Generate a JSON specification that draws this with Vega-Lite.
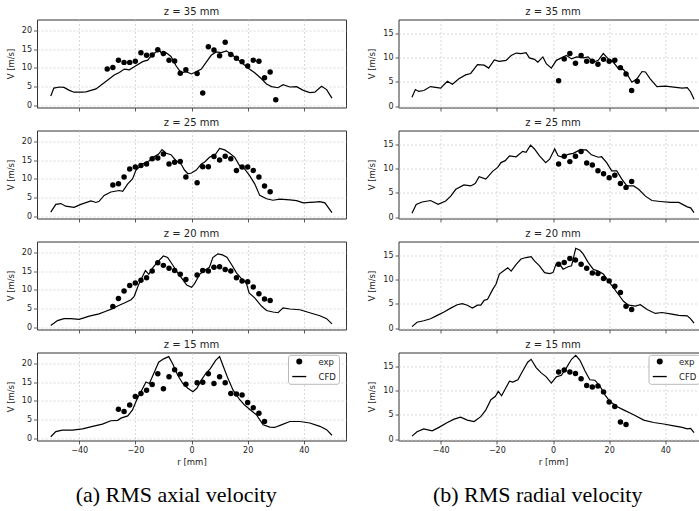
{
  "$schema": "https://vega.github.io/schema/vega-lite/v6.json",
  "background": "white",
  "padding": {"left": 5, "top": 6.5, "right": 0, "bottom": 0},
  "datasets": {
    "a35c": [{"r":-50.1,"V":2.5},{"r":-49,"V":4.6},{"r":-47,"V":4.9},{"r":-45.4,"V":4.8},{"r":-43.5,"V":4.0},{"r":-41.8,"V":3.5},{"r":-39,"V":3.5},{"r":-37.6,"V":3.6},{"r":-34,"V":4.4},{"r":-30.5,"V":6.4},{"r":-27.5,"V":8.1},{"r":-25.7,"V":8.8},{"r":-23.9,"V":9.7},{"r":-22.1,"V":9.5},{"r":-19.8,"V":10.6},{"r":-17.4,"V":11.7},{"r":-15.6,"V":12.1},{"r":-13.8,"V":13.7},{"r":-12.6,"V":14.3},{"r":-11.4,"V":14.8},{"r":-10.2,"V":13.3},{"r":-9,"V":14.1},{"r":-7.3,"V":13.1},{"r":-5.5,"V":10.6},{"r":-3.7,"V":8.7},{"r":-1.9,"V":9.0},{"r":0,"V":8.4},{"r":1.7,"V":9.0},{"r":3.5,"V":9.7},{"r":5.2,"V":11.5},{"r":7,"V":13.4},{"r":8.8,"V":14.3},{"r":10.6,"V":14.1},{"r":12.4,"V":14.6},{"r":14.2,"V":13.7},{"r":16,"V":12.6},{"r":17.7,"V":11.5},{"r":20.1,"V":10.0},{"r":22.5,"V":8.7},{"r":24.9,"V":7.1},{"r":26.7,"V":5.7},{"r":28.5,"V":5.0},{"r":30.8,"V":4.7},{"r":32.6,"V":5.5},{"r":35,"V":4.9},{"r":37.4,"V":5.0},{"r":39.8,"V":4.0},{"r":42.1,"V":3.4},{"r":43.9,"V":3.5},{"r":46.3,"V":5.1},{"r":48.1,"V":4.2},{"r":50,"V":1.9}],
    "a35e": [{"r":-30,"V":9.7},{"r":-28,"V":10.1},{"r":-26,"V":12.1},{"r":-24,"V":11.5},{"r":-22,"V":11.5},{"r":-20,"V":11.8},{"r":-18,"V":14.1},{"r":-16,"V":13.4},{"r":-14,"V":13.5},{"r":-12,"V":14.9},{"r":-10,"V":13.9},{"r":-8,"V":12.1},{"r":-6,"V":11.9},{"r":-4,"V":8.6},{"r":-2,"V":9.5},{"r":2,"V":8.5},{"r":4,"V":3.3},{"r":6,"V":15.7},{"r":8,"V":14.8},{"r":10,"V":13.3},{"r":12,"V":16.9},{"r":14,"V":13.6},{"r":16,"V":12.6},{"r":18,"V":11.7},{"r":20,"V":10.5},{"r":22,"V":12.1},{"r":24,"V":11.8},{"r":26,"V":7.4},{"r":28,"V":8.9},{"r":30,"V":1.5}],
    "a25c": [{"r":-50.1,"V":1.1},{"r":-48.3,"V":3.2},{"r":-46.5,"V":3.4},{"r":-44.8,"V":2.7},{"r":-41.8,"V":2.4},{"r":-39.4,"V":3.2},{"r":-35.8,"V":4.1},{"r":-34,"V":3.7},{"r":-32.9,"V":4.0},{"r":-31.1,"V":5.6},{"r":-28.7,"V":6.5},{"r":-25.7,"V":6.9},{"r":-24.5,"V":6.7},{"r":-22.7,"V":8.7},{"r":-21,"V":10.0},{"r":-19.8,"V":12.3},{"r":-17.4,"V":14.0},{"r":-15,"V":14.9},{"r":-13.2,"V":16.0},{"r":-11.7,"V":16.7},{"r":-10.5,"V":17.9},{"r":-9,"V":16.9},{"r":-7.3,"V":16.5},{"r":-5.5,"V":14.9},{"r":-3.7,"V":14.0},{"r":-2.5,"V":12.4},{"r":-1.3,"V":11.4},{"r":0,"V":11.6},{"r":1.7,"V":12.4},{"r":3.5,"V":14.0},{"r":4.6,"V":14.5},{"r":6.4,"V":15.8},{"r":8.6,"V":16.7},{"r":10,"V":18.2},{"r":11.8,"V":17.8},{"r":13.6,"V":16.9},{"r":15.4,"V":15.8},{"r":17.1,"V":13.6},{"r":18.9,"V":12.7},{"r":20.7,"V":10.9},{"r":22.5,"V":8.7},{"r":24.3,"V":5.6},{"r":26.7,"V":4.7},{"r":29,"V":4.3},{"r":31.4,"V":4.6},{"r":35,"V":4.4},{"r":37.4,"V":4.2},{"r":39.8,"V":3.6},{"r":42.1,"V":3.7},{"r":43.9,"V":3.8},{"r":45.7,"V":3.9},{"r":47.5,"V":3.6},{"r":50,"V":1.0}],
    "a25e": [{"r":-28,"V":8.4},{"r":-26,"V":8.7},{"r":-24,"V":10.5},{"r":-22,"V":12.7},{"r":-20,"V":13.2},{"r":-18,"V":13.6},{"r":-16,"V":14.0},{"r":-14,"V":15.4},{"r":-12,"V":15.6},{"r":-10,"V":16.7},{"r":-8,"V":14.0},{"r":-6,"V":14.5},{"r":-4,"V":14.7},{"r":-2,"V":10.5},{"r":2,"V":9.0},{"r":4,"V":13.3},{"r":6,"V":13.3},{"r":8,"V":16.0},{"r":10,"V":15.1},{"r":12,"V":16.1},{"r":14,"V":15.4},{"r":16,"V":12.3},{"r":18,"V":13.2},{"r":20,"V":13.2},{"r":22,"V":12.3},{"r":24,"V":10.5},{"r":26,"V":8.1},{"r":28,"V":6.6}],
    "a20c": [{"r":-50.1,"V":0.5},{"r":-47.7,"V":1.8},{"r":-45.4,"V":2.3},{"r":-43,"V":2.3},{"r":-40,"V":2.1},{"r":-36.4,"V":3.0},{"r":-32.9,"V":3.6},{"r":-30.5,"V":4.3},{"r":-28.1,"V":5.0},{"r":-26.3,"V":5.7},{"r":-23.9,"V":6.5},{"r":-21.5,"V":7.4},{"r":-20.4,"V":8.3},{"r":-18.8,"V":11.5},{"r":-17.4,"V":13.7},{"r":-16.4,"V":15.2},{"r":-15.2,"V":14.2},{"r":-13.6,"V":16.1},{"r":-11.7,"V":17.8},{"r":-10,"V":19.1},{"r":-8.5,"V":18.7},{"r":-6.7,"V":16.7},{"r":-4.9,"V":14.6},{"r":-3.1,"V":12.8},{"r":-1.7,"V":11.3},{"r":0,"V":10.7},{"r":1.1,"V":11.7},{"r":2.9,"V":14.2},{"r":4.6,"V":15.2},{"r":6.4,"V":16.1},{"r":7.6,"V":18.7},{"r":9.4,"V":19.7},{"r":11,"V":19.4},{"r":12.6,"V":18.8},{"r":14.2,"V":16.9},{"r":16,"V":14.6},{"r":17.7,"V":13.1},{"r":19.5,"V":11.9},{"r":20.5,"V":9.2},{"r":22.5,"V":7.9},{"r":24.9,"V":5.7},{"r":26.7,"V":4.5},{"r":29,"V":4.1},{"r":30.8,"V":3.9},{"r":32.6,"V":5.2},{"r":35,"V":4.9},{"r":38.6,"V":4.7},{"r":42.1,"V":3.9},{"r":45.7,"V":3.1},{"r":48.1,"V":2.3},{"r":50,"V":0.9}],
    "a20e": [{"r":-28,"V":5.6},{"r":-26,"V":7.7},{"r":-24,"V":9.7},{"r":-22,"V":11.2},{"r":-20,"V":11.9},{"r":-18,"V":12.6},{"r":-16,"V":13.3},{"r":-14,"V":15.1},{"r":-12,"V":17.3},{"r":-10,"V":16.6},{"r":-8,"V":15.8},{"r":-6,"V":15.2},{"r":-4,"V":14.2},{"r":-2,"V":12.8},{"r":2,"V":14.0},{"r":4,"V":15.2},{"r":6,"V":15.1},{"r":8,"V":16.1},{"r":10,"V":16.2},{"r":12,"V":15.5},{"r":14,"V":15.1},{"r":16,"V":13.3},{"r":18,"V":12.4},{"r":20,"V":12.2},{"r":22,"V":10.8},{"r":24,"V":9.0},{"r":26,"V":7.6},{"r":28,"V":7.2}],
    "a15c": [{"r":-50.1,"V":0.4},{"r":-48.3,"V":1.8},{"r":-46,"V":2.2},{"r":-42.4,"V":2.2},{"r":-38.8,"V":2.5},{"r":-35.2,"V":3.2},{"r":-31.7,"V":3.8},{"r":-28.7,"V":4.7},{"r":-26.3,"V":4.8},{"r":-25.1,"V":5.4},{"r":-22.7,"V":6.0},{"r":-21,"V":7.6},{"r":-19.5,"V":10.3},{"r":-18,"V":12.5},{"r":-16.2,"V":15.1},{"r":-15,"V":14.7},{"r":-13.2,"V":17.8},{"r":-11.7,"V":20.4},{"r":-9.9,"V":21.3},{"r":-8.1,"V":21.9},{"r":-6.7,"V":20.0},{"r":-4.9,"V":16.9},{"r":-3.1,"V":14.7},{"r":-1.3,"V":13.4},{"r":0.5,"V":12.5},{"r":1.9,"V":13.4},{"r":3.5,"V":15.6},{"r":5,"V":17.3},{"r":6.7,"V":18.7},{"r":8.6,"V":20.9},{"r":10,"V":21.9},{"r":11.4,"V":19.1},{"r":13,"V":16.0},{"r":14.8,"V":12.9},{"r":17.1,"V":10.4},{"r":18.9,"V":8.9},{"r":21,"V":7.6},{"r":23.1,"V":6.3},{"r":25.5,"V":3.6},{"r":27.9,"V":3.0},{"r":29.6,"V":2.9},{"r":32,"V":3.6},{"r":35,"V":4.5},{"r":38.6,"V":4.5},{"r":42.1,"V":4.1},{"r":45.7,"V":3.2},{"r":48.1,"V":2.3},{"r":50,"V":0.8}],
    "a15e": [{"r":-26,"V":7.8},{"r":-24,"V":7.2},{"r":-22,"V":8.9},{"r":-20,"V":11.2},{"r":-18,"V":12.0},{"r":-16,"V":12.9},{"r":-14,"V":14.4},{"r":-12,"V":17.3},{"r":-10,"V":13.3},{"r":-8,"V":16.5},{"r":-6,"V":18.4},{"r":-4,"V":17.2},{"r":-2,"V":14.5},{"r":2,"V":14.9},{"r":4,"V":15.0},{"r":6,"V":17.3},{"r":8,"V":14.7},{"r":10,"V":16.5},{"r":12,"V":14.9},{"r":14,"V":12.0},{"r":16,"V":11.9},{"r":18,"V":11.6},{"r":20,"V":9.6},{"r":22,"V":8.2},{"r":24,"V":6.7},{"r":26,"V":4.5}],
    "r35c": [{"r":-50.2,"V":1.8},{"r":-49,"V":3.4},{"r":-47.8,"V":3.0},{"r":-46,"V":3.2},{"r":-43.6,"V":4.0},{"r":-41.2,"V":3.8},{"r":-40,"V":3.7},{"r":-37.6,"V":5.1},{"r":-35.8,"V":4.5},{"r":-33.5,"V":5.6},{"r":-31.1,"V":6.4},{"r":-29.3,"V":6.7},{"r":-26.9,"V":8.5},{"r":-24.5,"V":8.4},{"r":-22.9,"V":7.8},{"r":-20.9,"V":9.5},{"r":-19.1,"V":9.2},{"r":-16.7,"V":9.4},{"r":-14.9,"V":10.4},{"r":-13.1,"V":10.9},{"r":-11.4,"V":10.8},{"r":-9.6,"V":11.0},{"r":-8.4,"V":9.9},{"r":-6.6,"V":9.6},{"r":-5.4,"V":9.0},{"r":-3.6,"V":10.1},{"r":-2.4,"V":8.7},{"r":-0.6,"V":7.8},{"r":1.2,"V":9.4},{"r":3,"V":9.9},{"r":4.8,"V":10.4},{"r":6.6,"V":9.7},{"r":8.4,"V":10.1},{"r":10.8,"V":9.9},{"r":12.5,"V":10.1},{"r":14.3,"V":9.0},{"r":16.1,"V":9.4},{"r":17.9,"V":10.8},{"r":19.7,"V":9.7},{"r":21.5,"V":9.0},{"r":23.3,"V":7.7},{"r":25.1,"V":7.5},{"r":26.3,"V":6.6},{"r":28.1,"V":4.9},{"r":29.9,"V":5.6},{"r":31.7,"V":7.1},{"r":32.9,"V":7.0},{"r":34.6,"V":5.6},{"r":37,"V":4.0},{"r":40,"V":4.1},{"r":43,"V":3.9},{"r":46,"V":3.7},{"r":47.8,"V":3.8},{"r":49,"V":2.9},{"r":50.2,"V":1.4}],
    "r35e": [{"r":2,"V":5.2},{"r":4,"V":9.7},{"r":6,"V":10.8},{"r":8,"V":8.8},{"r":10,"V":10.4},{"r":12,"V":9.2},{"r":14,"V":9.2},{"r":16,"V":8.6},{"r":18,"V":9.6},{"r":20,"V":9.2},{"r":22,"V":9.4},{"r":24,"V":7.9},{"r":26,"V":6.6},{"r":28,"V":3.2},{"r":30,"V":5.1}],
    "r25c": [{"r":-50.2,"V":0.8},{"r":-48.7,"V":2.6},{"r":-46.6,"V":3.1},{"r":-43.6,"V":3.4},{"r":-40.9,"V":2.6},{"r":-38.2,"V":3.3},{"r":-36.4,"V":4.3},{"r":-34.6,"V":5.7},{"r":-31.7,"V":6.6},{"r":-29.3,"V":6.4},{"r":-27.7,"V":6.9},{"r":-26.3,"V":8.3},{"r":-23.9,"V":7.8},{"r":-21.5,"V":9.4},{"r":-19.7,"V":10.2},{"r":-18.5,"V":11.2},{"r":-17,"V":11.6},{"r":-15.5,"V":12.6},{"r":-13.1,"V":12.4},{"r":-10.8,"V":13.5},{"r":-9.6,"V":13.3},{"r":-8,"V":14.8},{"r":-6.6,"V":14.0},{"r":-4.8,"V":12.6},{"r":-2.6,"V":11.2},{"r":-1.2,"V":11.9},{"r":0.6,"V":14.0},{"r":1.8,"V":12.6},{"r":3.6,"V":12.3},{"r":5.4,"V":12.9},{"r":7.2,"V":13.1},{"r":9.6,"V":13.8},{"r":11.9,"V":13.8},{"r":13.7,"V":12.8},{"r":16.1,"V":12.3},{"r":17.3,"V":12.4},{"r":19.1,"V":11.2},{"r":20.9,"V":9.5},{"r":22.7,"V":9.5},{"r":24.5,"V":7.8},{"r":26.3,"V":6.4},{"r":28.7,"V":6.4},{"r":30.5,"V":5.7},{"r":32.9,"V":4.3},{"r":35.2,"V":3.4},{"r":38.2,"V":3.2},{"r":41.8,"V":3.0},{"r":44.8,"V":3.0},{"r":47.8,"V":2.1},{"r":49,"V":1.9},{"r":50.2,"V":0.9}],
    "r25e": [{"r":2,"V":10.9},{"r":4,"V":12.5},{"r":6,"V":11.4},{"r":8,"V":12.5},{"r":10,"V":13.5},{"r":12,"V":11.1},{"r":14,"V":10.7},{"r":16,"V":9.5},{"r":18,"V":8.9},{"r":20,"V":8.1},{"r":22,"V":8.6},{"r":24,"V":6.9},{"r":26,"V":6.1},{"r":28,"V":7.3}],
    "r20c": [{"r":-50.2,"V":0.3},{"r":-48.4,"V":1.2},{"r":-46,"V":1.5},{"r":-43.6,"V":1.9},{"r":-41.2,"V":2.6},{"r":-38.8,"V":3.3},{"r":-36.4,"V":4.1},{"r":-34.1,"V":4.8},{"r":-32.3,"V":5.0},{"r":-30.5,"V":4.7},{"r":-28.7,"V":4.1},{"r":-26.9,"V":4.7},{"r":-25.7,"V":4.7},{"r":-24.5,"V":5.7},{"r":-23.3,"V":5.9},{"r":-21.5,"V":7.9},{"r":-20.3,"V":9.0},{"r":-19.1,"V":11.1},{"r":-17.3,"V":11.9},{"r":-16.1,"V":12.4},{"r":-14.9,"V":11.7},{"r":-13.1,"V":13.1},{"r":-11.4,"V":14.2},{"r":-9.6,"V":14.5},{"r":-7.8,"V":14.7},{"r":-6.6,"V":13.8},{"r":-4.8,"V":12.8},{"r":-3,"V":11.4},{"r":-1.2,"V":11.2},{"r":0,"V":11.4},{"r":1.2,"V":13.3},{"r":2.4,"V":13.1},{"r":3.6,"V":12.1},{"r":5.4,"V":12.6},{"r":6.6,"V":12.8},{"r":8.1,"V":16.4},{"r":9.6,"V":16.0},{"r":10.8,"V":15.2},{"r":12.5,"V":13.5},{"r":14.3,"V":12.1},{"r":16.1,"V":11.7},{"r":17.9,"V":11.1},{"r":19.7,"V":9.7},{"r":21.5,"V":8.3},{"r":23.3,"V":6.9},{"r":25.1,"V":5.5},{"r":26.9,"V":4.7},{"r":29.3,"V":4.5},{"r":31.1,"V":4.8},{"r":33.5,"V":3.8},{"r":36.4,"V":3.0},{"r":38.8,"V":3.2},{"r":41.8,"V":2.9},{"r":44.8,"V":2.6},{"r":47.8,"V":2.5},{"r":49,"V":1.9},{"r":50.2,"V":1.0}],
    "r20e": [{"r":2,"V":13.1},{"r":4,"V":13.5},{"r":6,"V":14.3},{"r":8,"V":14.0},{"r":10,"V":13.1},{"r":12,"V":12.3},{"r":14,"V":11.3},{"r":16,"V":11.2},{"r":18,"V":10.2},{"r":20,"V":9.7},{"r":22,"V":8.6},{"r":24,"V":7.3},{"r":26,"V":4.5},{"r":28,"V":3.8}],
    "r15c": [{"r":-50.2,"V":0.6},{"r":-48.4,"V":1.5},{"r":-46,"V":2.1},{"r":-43,"V":1.7},{"r":-40.6,"V":2.4},{"r":-37.6,"V":3.4},{"r":-35.2,"V":4.1},{"r":-32.9,"V":4.5},{"r":-30.5,"V":3.9},{"r":-28.1,"V":3.6},{"r":-25.7,"V":4.6},{"r":-23.9,"V":6.0},{"r":-22.1,"V":8.1},{"r":-20.5,"V":8.8},{"r":-19.5,"V":9.8},{"r":-18.3,"V":8.9},{"r":-17,"V":10.3},{"r":-15.5,"V":11.9},{"r":-14.3,"V":11.7},{"r":-12.5,"V":12.2},{"r":-10.8,"V":14.0},{"r":-9,"V":15.8},{"r":-7.8,"V":16.4},{"r":-6,"V":14.7},{"r":-4.2,"V":13.6},{"r":-2.4,"V":12.8},{"r":-0.6,"V":11.5},{"r":1.2,"V":12.8},{"r":3,"V":13.1},{"r":4.8,"V":14.7},{"r":6.6,"V":16.4},{"r":8.1,"V":17.2},{"r":9.6,"V":16.2},{"r":11.4,"V":14.0},{"r":13.1,"V":12.2},{"r":14.9,"V":12.1},{"r":16.7,"V":10.9},{"r":18.5,"V":9.1},{"r":20.3,"V":7.7},{"r":22.7,"V":6.7},{"r":25.1,"V":6.0},{"r":28.7,"V":5.0},{"r":32.3,"V":3.9},{"r":35.8,"V":3.4},{"r":39.4,"V":3.1},{"r":43,"V":2.7},{"r":46,"V":2.4},{"r":47.8,"V":2.1},{"r":49,"V":2.2},{"r":50.2,"V":1.3}],
    "r15e": [{"r":2,"V":13.8},{"r":4,"V":14.2},{"r":6,"V":13.8},{"r":8,"V":13.5},{"r":10,"V":12.4},{"r":12,"V":11.0},{"r":14,"V":10.7},{"r":16,"V":10.9},{"r":18,"V":9.7},{"r":20,"V":7.6},{"r":22,"V":6.7},{"r":24,"V":3.5},{"r":26,"V":3.0}]
  },
  "hconcat": [
    {
      "spacing": 5,
      "title": {"text": "(a) RMS axial velocity", "orient": "bottom", "anchor": "middle", "frame": "bounds", "font": "Liberation Serif", "fontSize": 22, "fontWeight": "normal", "color": "black", "offset": 19},
      "resolve": {"scale": {"shape": "independent"}, "legend": {"shape": "independent"}},
      "vconcat": [
        {
          "title": "z = 35 mm", "width": 309, "height": 88,
          "encoding": {
            "x": {"field": "r", "type": "quantitative", "scale": {"domain": [-55, 55], "nice": false}, "axis": {"values": [-40, -20, 0, 20, 40], "labels": false, "title": null}},
            "y": {"field": "V", "type": "quantitative", "scale": {"domain": [-0.6, 23], "nice": false, "zero": false}, "axis": {"values": [0, 5, 10, 15, 20], "title": "V [m/s]"}}
          },
          "layer": [
            {"data": {"name": "a35c"}, "mark": {"type": "line"}},
            {"data": {"name": "a35e"}, "mark": {"type": "point"}}
          ]
        },
        {
          "title": "z = 25 mm", "width": 309, "height": 88,
          "encoding": {
            "x": {"field": "r", "type": "quantitative", "scale": {"domain": [-55, 55], "nice": false}, "axis": {"values": [-40, -20, 0, 20, 40], "labels": false, "title": null}},
            "y": {"field": "V", "type": "quantitative", "scale": {"domain": [-0.6, 23], "nice": false, "zero": false}, "axis": {"values": [0, 5, 10, 15, 20], "title": "V [m/s]"}}
          },
          "layer": [
            {"data": {"name": "a25c"}, "mark": {"type": "line"}},
            {"data": {"name": "a25e"}, "mark": {"type": "point"}}
          ]
        },
        {
          "title": "z = 20 mm", "width": 309, "height": 88,
          "encoding": {
            "x": {"field": "r", "type": "quantitative", "scale": {"domain": [-55, 55], "nice": false}, "axis": {"values": [-40, -20, 0, 20, 40], "labels": false, "title": null}},
            "y": {"field": "V", "type": "quantitative", "scale": {"domain": [-0.6, 23], "nice": false, "zero": false}, "axis": {"values": [0, 5, 10, 15, 20], "title": "V [m/s]"}}
          },
          "layer": [
            {"data": {"name": "a20c"}, "mark": {"type": "line"}},
            {"data": {"name": "a20e"}, "mark": {"type": "point"}}
          ]
        },
        {
          "title": "z = 15 mm", "width": 309, "height": 88,
          "encoding": {
            "x": {"field": "r", "type": "quantitative", "scale": {"domain": [-55, 55], "nice": false}, "axis": {"values": [-40, -20, 0, 20, 40], "title": "r [mm]"}},
            "y": {"field": "V", "type": "quantitative", "scale": {"domain": [-0.6, 23], "nice": false, "zero": false}, "axis": {"values": [0, 5, 10, 15, 20], "title": "V [m/s]"}}
          },
          "layer": [
            {"data": {"name": "a15c"}, "mark": {"type": "line"}},
            {
              "data": {"name": "a15e"},
              "mark": {"type": "point"},
              "encoding": {
                "shape": {
                  "datum": "exp", "type": "nominal",
                  "scale": {"domain": ["exp", "CFD"], "range": ["circle", "M-2.33,-0.22L2.33,-0.22L2.33,0.22L-2.33,0.22Z"]},
                  "legend": {
                    "orient": "none", "legendX": 251, "legendY": 2.3, "title": null,
                    "padding": 2.5, "rowPadding": 4, "symbolSize": 36, "symbolOffset": 4.5, "labelOffset": 15,
                    "symbolFillColor": "black",
                    "labelFontSize": 8.5, "labelColor": "#222222",
                    "fillColor": "rgba(255,255,255,0.85)", "strokeColor": "#b8b8b8", "cornerRadius": 2.5
                  }
                }
              }
            }
          ]
        }
      ]
    },
    {
      "spacing": 5,
      "title": {"text": "(b) RMS radial velocity", "orient": "bottom", "anchor": "middle", "frame": "bounds", "font": "Liberation Serif", "fontSize": 22, "fontWeight": "normal", "color": "black", "offset": 19},
      "resolve": {"scale": {"shape": "independent"}, "legend": {"shape": "independent"}},
      "vconcat": [
        {
          "title": "z = 35 mm", "width": 309, "height": 88,
          "encoding": {
            "x": {"field": "r", "type": "quantitative", "scale": {"domain": [-55, 55], "nice": false}, "axis": {"values": [-40, -20, 0, 20, 40], "labels": false, "title": null}},
            "y": {"field": "V", "type": "quantitative", "scale": {"domain": [-0.3, 17.8], "nice": false, "zero": false}, "axis": {"values": [0, 5, 10, 15], "title": "V [m/s]"}}
          },
          "layer": [
            {"data": {"name": "r35c"}, "mark": {"type": "line"}},
            {"data": {"name": "r35e"}, "mark": {"type": "point"}}
          ]
        },
        {
          "title": "z = 25 mm", "width": 309, "height": 88,
          "encoding": {
            "x": {"field": "r", "type": "quantitative", "scale": {"domain": [-55, 55], "nice": false}, "axis": {"values": [-40, -20, 0, 20, 40], "labels": false, "title": null}},
            "y": {"field": "V", "type": "quantitative", "scale": {"domain": [-0.3, 17.8], "nice": false, "zero": false}, "axis": {"values": [0, 5, 10, 15], "title": "V [m/s]"}}
          },
          "layer": [
            {"data": {"name": "r25c"}, "mark": {"type": "line"}},
            {"data": {"name": "r25e"}, "mark": {"type": "point"}}
          ]
        },
        {
          "title": "z = 20 mm", "width": 309, "height": 88,
          "encoding": {
            "x": {"field": "r", "type": "quantitative", "scale": {"domain": [-55, 55], "nice": false}, "axis": {"values": [-40, -20, 0, 20, 40], "labels": false, "title": null}},
            "y": {"field": "V", "type": "quantitative", "scale": {"domain": [-0.3, 17.8], "nice": false, "zero": false}, "axis": {"values": [0, 5, 10, 15], "title": "V [m/s]"}}
          },
          "layer": [
            {"data": {"name": "r20c"}, "mark": {"type": "line"}},
            {"data": {"name": "r20e"}, "mark": {"type": "point"}}
          ]
        },
        {
          "title": "z = 15 mm", "width": 309, "height": 88,
          "encoding": {
            "x": {"field": "r", "type": "quantitative", "scale": {"domain": [-55, 55], "nice": false}, "axis": {"values": [-40, -20, 0, 20, 40], "title": "r [mm]"}},
            "y": {"field": "V", "type": "quantitative", "scale": {"domain": [-0.3, 17.8], "nice": false, "zero": false}, "axis": {"values": [0, 5, 10, 15], "title": "V [m/s]"}}
          },
          "layer": [
            {"data": {"name": "r15c"}, "mark": {"type": "line"}},
            {
              "data": {"name": "r15e"},
              "mark": {"type": "point"},
              "encoding": {
                "shape": {
                  "datum": "exp", "type": "nominal",
                  "scale": {"domain": ["exp", "CFD"], "range": ["circle", "M-2.33,-0.22L2.33,-0.22L2.33,0.22L-2.33,0.22Z"]},
                  "legend": {
                    "orient": "none", "legendX": 250, "legendY": 2.3, "title": null,
                    "padding": 2.5, "rowPadding": 4, "symbolSize": 36, "symbolOffset": 4.5, "labelOffset": 15,
                    "symbolFillColor": "black",
                    "labelFontSize": 8.5, "labelColor": "#222222",
                    "fillColor": "rgba(255,255,255,0.85)", "strokeColor": "#b8b8b8", "cornerRadius": 2.5
                  }
                }
              }
            }
          ]
        }
      ]
    }
  ],
  "spacing": 19.5,
  "resolve": {"scale": {"shape": "independent"}, "legend": {"shape": "independent"}},
  "config": {
    "font": "DejaVu Sans",
    "view": {"stroke": "#333333", "strokeWidth": 1},
    "axis": {
      "domain": false, "grid": true, "gridColor": "#c8c8c8", "gridDash": [2, 2], "gridWidth": 0.7,
      "ticks": true, "tickColor": "#333333", "tickSize": 3.5, "tickWidth": 0.8,
      "labelFont": "DejaVu Sans", "labelFontSize": 8, "labelColor": "#222222", "labelPadding": 2,
      "titleFont": "DejaVu Sans", "titleFontSize": 8.5, "titleFontWeight": "normal", "titleColor": "#222222"
    },
    "axisY": {"titlePadding": 6},
    "axisX": {"titlePadding": 3},
    "title": {"font": "DejaVu Sans", "fontSize": 10, "fontWeight": "normal", "color": "#222222", "offset": 2.5, "anchor": "middle"},
    "line": {"color": "black", "strokeWidth": 1.2},
    "point": {"filled": true, "color": "black", "size": 30, "opacity": 1}
  }
}
